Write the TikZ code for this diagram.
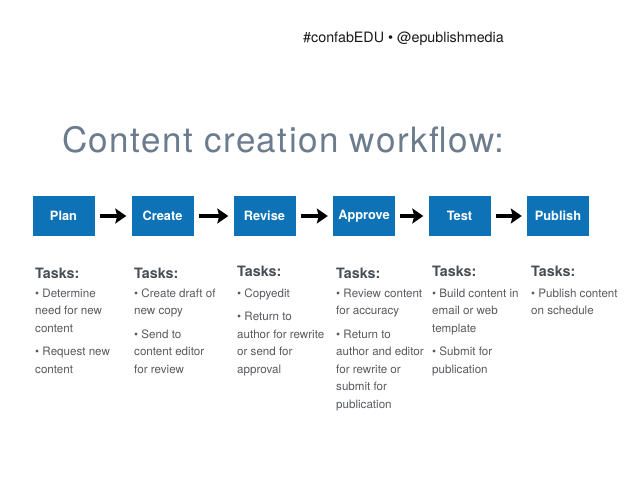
\documentclass[tikz,border=0pt]{standalone}
\usepackage{fontspec}
\setmainfont{TeX Gyre Heros}
\usetikzlibrary{arrows.meta}
\definecolor{boxblue}{RGB}{14,115,182}
\definecolor{titlegrey}{RGB}{108,124,143}
\definecolor{taskheadc}{RGB}{72,78,86}
\definecolor{taskbodyc}{RGB}{88,90,94}
\begin{document}
\begin{tikzpicture}[x=1pt,y=1pt,
  stagebox/.style={fill=boxblue, minimum width=62pt, minimum height=40pt, inner sep=0pt,
    text=white, font=\fontsize{12.8}{14}\selectfont\bfseries},
  flow/.style={-{Stealth[length=11pt,width=15pt,inset=2pt]}, line width=3.5pt,
    shorten <=5pt, shorten >=5pt},
  taskhead/.style={anchor=base west, inner sep=0pt, text=taskheadc,
    font=\fontsize{14.3}{16}\selectfont\bfseries},
  taskbody/.style={anchor=north west, inner sep=0pt, text=taskbodyc, align=left,
    font=\fontsize{11.6}{17.5}\selectfont}]
\fill[white] (0,0) rectangle (638,-493);
\useasboundingbox (0,0) rectangle (638,-493);

\node[anchor=base west, inner sep=0pt, font=\fontsize{14.3}{16}\selectfont, text=black!90] (tag) at (303,-42) {\#confabEDU • @epublishmedia};
\node[anchor=base west, inner sep=0pt, font=\fontsize{35}{40}\selectfont\addfontfeatures{LetterSpace=4.2}, text=titlegrey] (title) at (62,-152) {Content creation workflow:};

\node[stagebox] (plan)    at (63.5,-216) {Plan};
\node[stagebox] (create)  at (162.5,-216) {Create};
\node[stagebox] (revise)  at (264.5,-216) {Revise};
\node[stagebox] (approve) at (364,-216) {Approve};
\node[stagebox] (test)    at (459.5,-216) {Test};
\node[stagebox] (publish) at (558,-216) {Publish};

\draw[flow] (plan) -- (create);
\draw[flow] (create) -- (revise);
\draw[flow] (revise) -- (approve);
\draw[flow] (approve) -- (test);
\draw[flow] (test) -- (publish);

\node[taskhead] (h1) at (35,-278) {Tasks:};
\node[taskhead] (h2) at (134,-278) {Tasks:};
\node[taskhead] (h3) at (237,-276.5) {Tasks:};
\node[taskhead] (h4) at (336,-278) {Tasks:};
\node[taskhead] (h5) at (432,-276.5) {Tasks:};
\node[taskhead] (h6) at (531,-276.5) {Tasks:};

\node[taskbody] (b1) at (35,-288.5) {• Determine\\need for new\\content\\[6pt]• Request new\\content};
\node[taskbody] (b2) at (134,-288.5) {• Create draft of\\new copy\\[6pt]• Send to\\content editor\\for review};
\node[taskbody] (b3) at (237,-288.5) {• Copyedit\\[6pt]• Return to\\author for rewrite\\or send for\\approval};
\node[taskbody] (b4) at (336,-288.5) {• Review content\\for accuracy\\[6pt]• Return to\\author and editor\\for rewrite or\\submit for\\publication};
\node[taskbody] (b5) at (432,-288.5) {• Build content in\\email or web\\template\\[6pt]• Submit for\\publication};
\node[taskbody] (b6) at (531,-288.5) {• Publish content\\on schedule};
\end{tikzpicture}
\end{document}
